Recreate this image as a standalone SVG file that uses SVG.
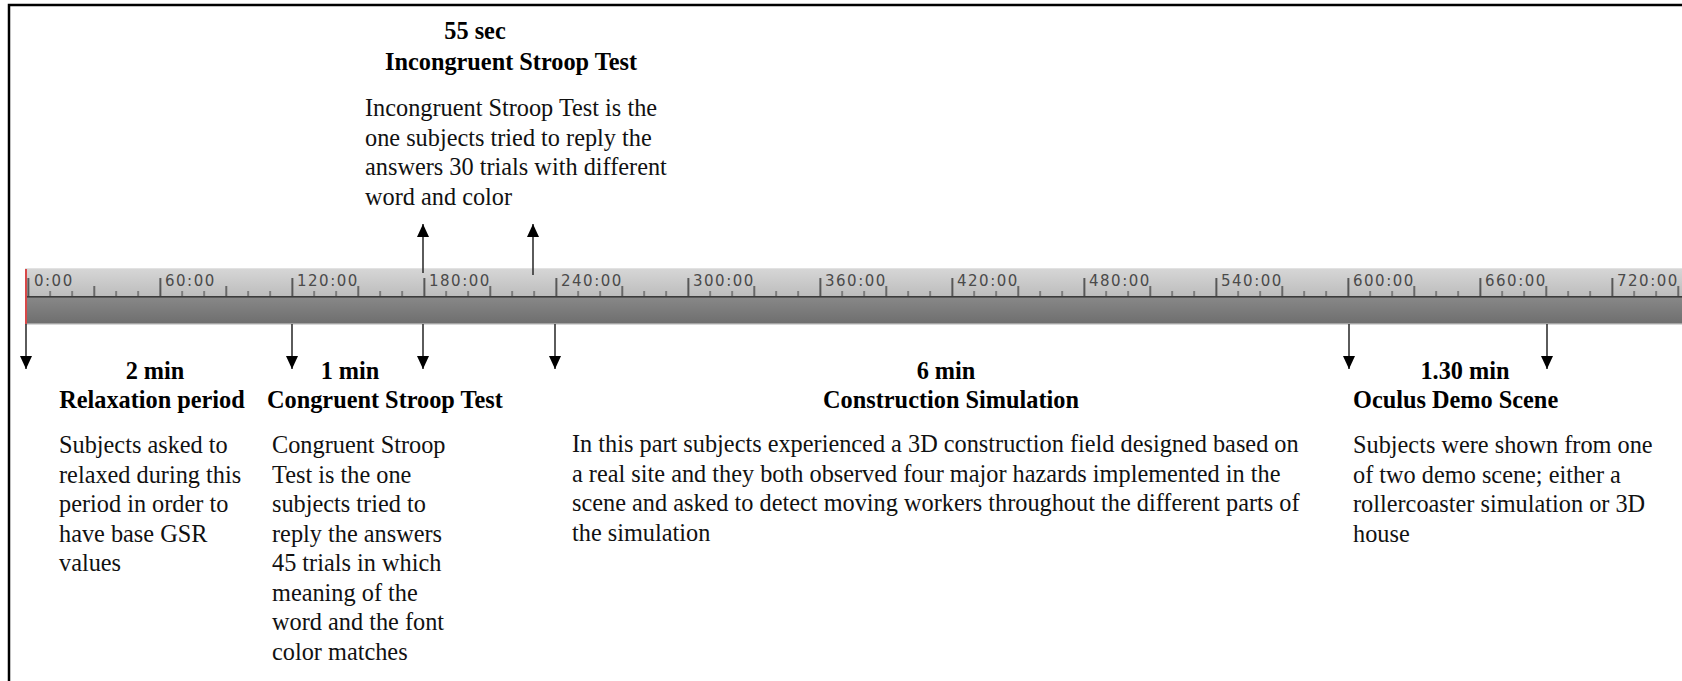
<svg xmlns="http://www.w3.org/2000/svg" width="1682" height="681" viewBox="0 0 1682 681">
<style>
  .h { font-family: "Liberation Serif", "Times New Roman", serif; font-size: 24.3px; font-weight: bold; fill: #000; }
  .b { font-family: "Liberation Serif", "Times New Roman", serif; font-size: 24.3px; fill: #111; }
  .lbl { font-family: "DejaVu Sans", Verdana, sans-serif; font-size: 15px; letter-spacing: 1.5px; fill: #4a4a4a; }
  .arr { stroke: #333; stroke-width: 1.6; fill: none; }
</style>
<defs>
  <marker id="ah" viewBox="0 0 13 12" refX="13" refY="6" markerWidth="13" markerHeight="12" markerUnits="userSpaceOnUse" orient="auto">
    <path d="M0,0 L13,6 L0,12 Z" fill="#000"/>
  </marker>
  <linearGradient id="gLight" x1="0" y1="0" x2="0" y2="1">
    <stop offset="0" stop-color="#d6d6d6"/>
    <stop offset="1" stop-color="#bcbcbc"/>
  </linearGradient>
  <linearGradient id="gDark" x1="0" y1="0" x2="0" y2="1">
    <stop offset="0" stop-color="#888888"/>
    <stop offset="1" stop-color="#6e6e6e"/>
  </linearGradient>
  <pattern id="ticks" patternUnits="userSpaceOnUse" x="27.5" y="269" width="132" height="28">
    <rect x="0" y="9" width="1.6" height="19" fill="#3c3c3c"/>
    <rect x="22" y="22" width="1.2" height="6" fill="#505050"/>
    <rect x="44" y="22" width="1.2" height="6" fill="#505050"/>
    <rect x="66" y="17" width="1.4" height="11" fill="#404040"/>
    <rect x="88" y="22" width="1.2" height="6" fill="#505050"/>
    <rect x="110" y="22" width="1.2" height="6" fill="#505050"/>
  </pattern>
</defs>

<rect width="1682" height="681" fill="#fff"/>

<!-- frame -->
<path d="M9,681 V5 H1682" fill="none" stroke="#000" stroke-width="2.5"/>

<!-- timeline ruler -->
<g id="timeline">
  <rect x="25" y="268" width="1657" height="1.5" fill="#e2e2e2"/>
  <rect x="25" y="269" width="1657" height="28" fill="url(#gLight)"/>
  <rect x="25" y="269" width="1657" height="28" fill="url(#ticks)"/>
  <rect x="25" y="297" width="1657" height="27" fill="url(#gDark)"/>
  <rect x="25" y="296" width="1657" height="1.6" fill="#3c3c3c"/>
  <rect x="25" y="323.5" width="1657" height="1.5" fill="#d8d8d8"/>
  <rect x="25" y="269" width="2" height="55" fill="#d84848"/>
  <text class="lbl" x="34" y="286">0:00</text>
  <text class="lbl" x="165" y="286">60:00</text>
  <text class="lbl" x="297" y="286">120:00</text>
  <text class="lbl" x="429" y="286">180:00</text>
  <text class="lbl" x="561" y="286">240:00</text>
  <text class="lbl" x="693" y="286">300:00</text>
  <text class="lbl" x="825" y="286">360:00</text>
  <text class="lbl" x="957" y="286">420:00</text>
  <text class="lbl" x="1089" y="286">480:00</text>
  <text class="lbl" x="1221" y="286">540:00</text>
  <text class="lbl" x="1353" y="286">600:00</text>
  <text class="lbl" x="1485" y="286">660:00</text>
  <text class="lbl" x="1617" y="286">720:00</text>
</g>

<!-- connectors -->
<g id="connectors">
  <line class="arr" x1="423" y1="273" x2="423" y2="224" marker-end="url(#ah)"/>
  <line class="arr" x1="533" y1="275" x2="533" y2="224" marker-end="url(#ah)"/>
  <line class="arr" x1="26" y1="324" x2="26" y2="369" marker-end="url(#ah)"/>
  <line class="arr" x1="292" y1="324" x2="292" y2="369" marker-end="url(#ah)"/>
  <line class="arr" x1="423" y1="324" x2="423" y2="369" marker-end="url(#ah)"/>
  <line class="arr" x1="555" y1="324" x2="555" y2="369" marker-end="url(#ah)"/>
  <line class="arr" x1="1349" y1="324" x2="1349" y2="369" marker-end="url(#ah)"/>
  <line class="arr" x1="1547" y1="324" x2="1547" y2="369" marker-end="url(#ah)"/>
</g>

<!-- nodes -->
<g id="incongruent">
  <text class="h" x="475" y="39" text-anchor="middle">55 sec</text>
  <text class="h" x="511" y="70" text-anchor="middle">Incongruent Stroop Test</text>
  <text class="b" x="365" y="116">Incongruent Stroop Test is the</text>
  <text class="b" x="365" y="145.5">one subjects tried to reply the</text>
  <text class="b" x="365" y="175">answers 30 trials with different</text>
  <text class="b" x="365" y="204.5">word and color</text>
</g>

<g id="relaxation">
  <text class="h" x="155" y="379" text-anchor="middle">2 min</text>
  <text class="h" x="152" y="408" text-anchor="middle">Relaxation period</text>
  <text class="b" x="59" y="453">Subjects asked to</text>
  <text class="b" x="59" y="482.5">relaxed during this</text>
  <text class="b" x="59" y="512">period in order to</text>
  <text class="b" x="59" y="541.5">have base GSR</text>
  <text class="b" x="59" y="571">values</text>
</g>

<g id="congruent">
  <text class="h" x="350" y="379" text-anchor="middle">1 min</text>
  <text class="h" x="267" y="408">Congruent Stroop Test</text>
  <text class="b" x="272" y="453">Congruent Stroop</text>
  <text class="b" x="272" y="482.5">Test is the one</text>
  <text class="b" x="272" y="512">subjects tried to</text>
  <text class="b" x="272" y="541.5">reply the answers</text>
  <text class="b" x="272" y="571">45 trials in which</text>
  <text class="b" x="272" y="600.5">meaning of the</text>
  <text class="b" x="272" y="630">word and the font</text>
  <text class="b" x="272" y="659.5">color matches</text>
</g>

<g id="construction">
  <text class="h" x="946" y="379" text-anchor="middle">6 min</text>
  <text class="h" x="951" y="408" text-anchor="middle">Construction Simulation</text>
  <text class="b" x="572" y="452">In this part subjects experienced a 3D construction field designed based on</text>
  <text class="b" x="572" y="481.5">a real site and they both observed four major hazards implemented in the</text>
  <text class="b" x="572" y="511">scene and asked to detect moving workers throughout the different parts of</text>
  <text class="b" x="572" y="540.5">the simulation</text>
</g>

<g id="oculus">
  <text class="h" x="1465" y="379" text-anchor="middle">1.30 min</text>
  <text class="h" x="1353" y="408">Oculus Demo Scene</text>
  <text class="b" x="1353" y="453">Subjects were shown from one</text>
  <text class="b" x="1353" y="482.5">of two demo scene; either a</text>
  <text class="b" x="1353" y="512">rollercoaster simulation or 3D</text>
  <text class="b" x="1353" y="541.5">house</text>
</g>
</svg>
